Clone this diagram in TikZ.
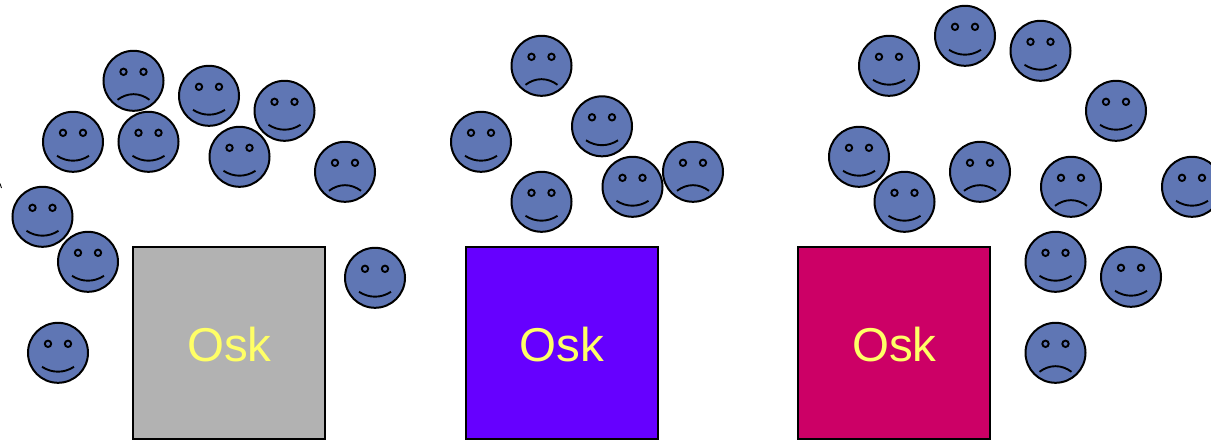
\documentclass[tikz,border=0pt]{standalone}
\usepackage{fontspec}
\setmainfont{Liberation Sans}
\definecolor{facefill}{HTML}{5F76B4}
\definecolor{oskyellow}{HTML}{FFFF66}
\definecolor{oskgrey}{HTML}{B2B2B2}
\definecolor{oskviolet}{HTML}{6600FF}
\definecolor{oskcrimson}{HTML}{CC0066}
\tikzset{
  x=1pt,y=-1pt,
  facebase/.style={circle,draw=black,fill=facefill,line width=2pt,minimum size=60pt,inner sep=0pt,outer sep=0pt},
  desk/.style={rectangle,draw=black,line width=2pt,minimum size=192pt,inner sep=0pt,outer sep=0pt,anchor=north west},
  osklabel/.style={text=oskyellow,font=\fontsize{47.5}{48}\selectfont,anchor=base},
  pics/happy/.style={code={
    \draw[line width=1.9pt] (-10,-9) circle[radius=3.2];
    \draw[line width=1.9pt] (10,-9) circle[radius=3.2];
    \draw[line width=1.9pt] (-16,14) .. controls (-6,20.5) and (6,20.5) .. (16,14);
  }},
  pics/unhappy/.style={code={
    \draw[line width=1.9pt] (-10,-9) circle[radius=3.2];
    \draw[line width=1.9pt] (10,-9) circle[radius=3.2];
    \draw[line width=1.9pt] (-16,19) .. controls (-6,11.5) and (6,11.5) .. (16,19);
  }},
}
\newcommand{\smileface}[3]{\node[facebase] (#1) at (#2,#3-0.2) {};\pic at (#2,#3-0.2) {happy};}
\newcommand{\sadface}[3]{\node[facebase] (#1) at (#2,#3-0.2) {};\pic at (#2,#3-0.2) {unhappy};}
\begin{document}
\begin{tikzpicture}
\clip (0,0) rectangle (1211,440);
\fill[white] (0,0) rectangle (1211,440);
\draw[line width=0.8pt] (0,183.5) -- (1.5,188);
% desks
\node[desk,fill=oskgrey] (deskA) at (133.3,246.9) {};
\node[desk,fill=oskviolet] (deskB) at (465.8,246.9) {};
\node[desk,fill=oskcrimson] (deskC) at (798.3,246.9) {};
\node[osklabel] (oskA) at (229.5,361) {Osk};
\node[osklabel] (oskB) at (562,361) {Osk};
\node[osklabel] (oskC) at (894.5,361) {Osk};
% group 1
\sadface{a1}{133.5}{81}
\smileface{a2}{209}{96}
\smileface{a3}{284.5}{111}
\smileface{a4}{73}{142}
\smileface{a5}{148.5}{142}
\smileface{a6}{239.5}{157}
\sadface{a7}{345}{172}
\smileface{a8}{42.5}{217}
\smileface{a9}{88}{262}
\smileface{a10}{375}{278}
\smileface{a11}{58}{353}
% group 2
\sadface{b1}{541.5}{66}
\smileface{b2}{602}{126.5}
\smileface{b3}{481}{142}
\smileface{b4}{632.5}{187}
\sadface{b5}{693}{172}
\smileface{b6}{541.5}{202}
% group 3
\smileface{c1}{889}{66}
\smileface{c2}{965}{36}
\smileface{c3}{1040.5}{51}
\smileface{c4}{1116}{111}
\smileface{c5}{859}{157}
\sadface{c6}{980}{172}
\sadface{c7}{1071}{187}
\smileface{c8}{1192}{187}
\smileface{c9}{904.5}{202}
\smileface{c10}{1055.5}{262}
\smileface{c11}{1131}{277}
\sadface{c12}{1055.5}{353}
\end{tikzpicture}
\end{document}
